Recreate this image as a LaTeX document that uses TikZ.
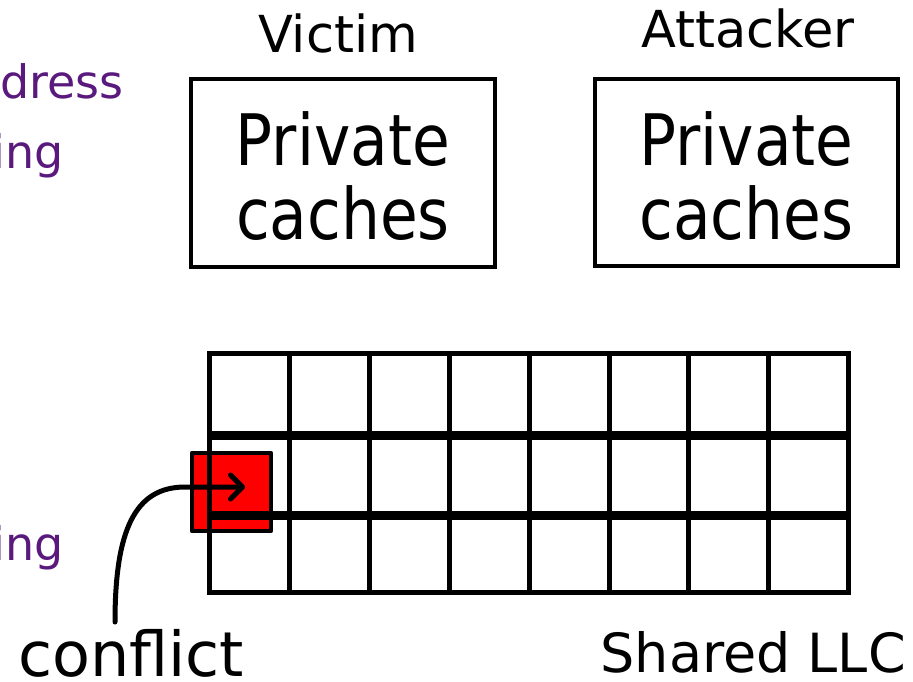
\documentclass[tikz,border=0pt]{standalone}
\usepackage{fontspec}
\setmainfont{DejaVu Sans}
\newfontfamily\narrowfont{DejaVu Sans}[FakeStretch=0.865]
\usetikzlibrary{arrows.meta}
\definecolor{mappurple}{RGB}{90,25,125}
\tikzset{
  cachebox/.style={draw, line width=4.5pt, minimum width=304pt, minimum height=188pt, inner sep=0pt},
  cachetext/.style={inner sep=0pt, align=center, text depth=0pt,
    font=\narrowfont\fontsize{71}{74}\selectfont},
  corelabel/.style={inner sep=0pt, anchor=base, font=\fontsize{51}{60}\selectfont},
  sidetext/.style={inner sep=0pt, anchor=base east, text=mappurple, font=\fontsize{46}{55}\selectfont},
  gridthin/.style={line width=5pt, line cap=rect},
  gridthick/.style={line width=9pt},
  hitcell/.style={draw, fill=red, line width=4.5pt, line join=round},
  pointer/.style={line width=5pt, line cap=round,
    -{Straight Barb[length=12pt,width=24pt,line cap=round,line join=round]}}
}
\begin{document}
\begin{tikzpicture}[x=1pt,y=-1pt]
\useasboundingbox (0,0) rectangle (913,681);

% core labels and their private caches
\node[corelabel] (victimlbl) at (338,52) {Victim};
\node[corelabel] (attlbl) at (748,47) {Attacker};
\node[cachebox] (victim) at (343,173) {};
\node[cachebox, minimum width=303pt, minimum height=187pt] (attacker) at (746.5,172.5) {};
\node[cachetext] (victimtxt) at (343,176) {Private\\caches};
\node[cachetext] (attackertxt) at (746.5,176) {Private\\caches};

% purple side texts
\node[sidetext] (addr) at (124,98) {dress};
\node[sidetext] (ing1) at (64,168) {ing};
\node[sidetext] (ing2) at (64,560) {ing};

% conflicting line (drawn under the grid)
\node[hitcell, minimum width=79pt, minimum height=78pt, inner sep=0pt] (hit) at (231.5,492) {};

% shared LLC grid: 8 ways x 3 sets
\foreach \x in {209,289,369,449,529,609,688,768,848}
  \draw[gridthin] (\x,353.5) -- (\x,592);
\draw[gridthin] (209,353.5) -- (848,353.5);
\draw[gridthin] (209,592) -- (848,592);
\draw[gridthick] (207,435.5) -- (850,435.5);
\draw[gridthick] (207,515) -- (850,515);

% labels at the bottom
\node[inner sep=0pt, anchor=base west, font=\fontsize{62}{70}\selectfont] (conflict) at (18,676) {conflict};
\node[inner sep=0pt, anchor=base east, font=\fontsize{54}{62}\selectfont] (llc) at (906,672) {Shared LLC};

% pointer from the label into the conflicting line
\coordinate (tail) at (115,622);
\coordinate (head) at (245,487);
\draw[pointer] (tail) .. controls (115,530) and (135,487) .. (185,487) -- (head);
\end{tikzpicture}
\end{document}
